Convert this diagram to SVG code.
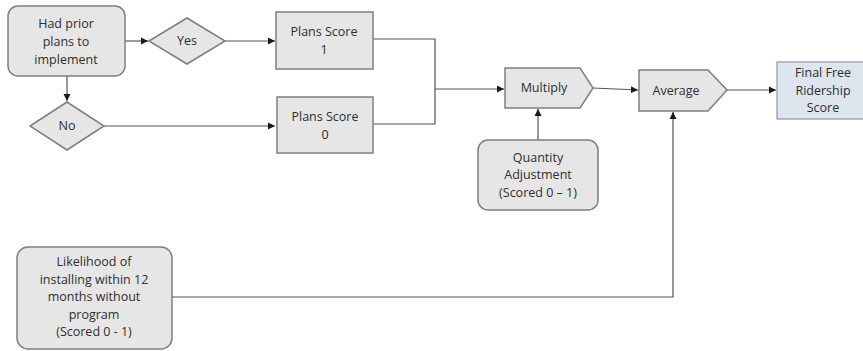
<svg xmlns="http://www.w3.org/2000/svg" width="863" height="351" viewBox="0 0 863 351">
<defs>
<marker id="ah" markerWidth="8" markerHeight="8" refX="7" refY="4" orient="auto" markerUnits="userSpaceOnUse">
<path d="M0,0.5 L7,4 L0,7.5 Z" fill="#1a1a1a"/>
</marker>
<style>
.n{fill:#e6e6e6;stroke:#7f7f7f;stroke-width:1.5}
.f{fill:#dde5ee;stroke:#8a96a4;stroke-width:1.2}
.t{font-family:"Open Sans","Liberation Sans",sans-serif;font-size:12.5px;fill:#2e2e2e;text-anchor:middle}
.c{fill:none;stroke:#555;stroke-width:1.2;marker-end:url(#ah)}
.l{fill:none;stroke:#555;stroke-width:1.2}
</style>
</defs>
<rect width="863" height="351" fill="#fff"/>
<g id="connectors">
<line class="c" x1="125" y1="41" x2="148" y2="41"/>
<line class="c" x1="225" y1="41" x2="275" y2="41"/>
<line class="c" x1="67" y1="76" x2="67" y2="101"/>
<line class="c" x1="104" y1="126" x2="275" y2="126"/>
<polyline class="l" points="373,39 435,39 435,124 373,124"/>
<line class="c" x1="435" y1="89" x2="504" y2="89"/>
<line class="c" x1="538" y1="140" x2="538" y2="109"/>
<line class="c" x1="593" y1="88" x2="638" y2="90"/>
<line class="c" x1="727" y1="90" x2="776" y2="90"/>
<polyline class="c" points="172,297 673,297 673,112"/>
</g>
<g id="had-prior">
<rect class="n" x="8" y="6" width="117" height="70" rx="10"/>
<text class="t" x="66" y="28">Had prior</text>
<text class="t" x="66" y="46">plans to</text>
<text class="t" x="66" y="64">implement</text>
</g>
<g id="yes">
<polygon class="n" points="149,41 187,18 225,41 187,64"/>
<text class="t" x="187" y="45">Yes</text>
</g>
<g id="no">
<polygon class="n" points="30,126 67,102 104,126 67,150"/>
<text class="t" x="67" y="130">No</text>
</g>
<g id="plans1">
<rect class="n" x="276" y="12" width="97" height="57"/>
<text class="t" x="324" y="36">Plans Score</text>
<text class="t" x="324" y="54">1</text>
</g>
<g id="plans0">
<rect class="n" x="277" y="97" width="96" height="56"/>
<text class="t" x="325" y="121">Plans Score</text>
<text class="t" x="325" y="139">0</text>
</g>
<g id="multiply">
<polygon class="n" points="505,68 580,68 593,88 580,108 505,108"/>
<text class="t" x="544" y="92">Multiply</text>
</g>
<g id="average">
<polygon class="n" points="639,70 708,70 727,90 708,111 639,111"/>
<text class="t" x="676" y="95">Average</text>
</g>
<g id="final">
<rect class="f" x="777" y="62" width="92" height="57"/>
<text class="t" x="823" y="77">Final Free</text>
<text class="t" x="823" y="95">Ridership</text>
<text class="t" x="823" y="112">Score</text>
</g>
<g id="quantity">
<rect class="n" x="478" y="140" width="120" height="70" rx="10"/>
<text class="t" x="538" y="162">Quantity</text>
<text class="t" x="538" y="179">Adjustment</text>
<text class="t" x="538" y="197">(Scored 0 – 1)</text>
</g>
<g id="likelihood">
<rect class="n" x="17" y="247" width="155" height="102" rx="11"/>
<text class="t" x="94" y="266">Likelihood of</text>
<text class="t" x="94" y="284">installing within 12</text>
<text class="t" x="94" y="301">months without</text>
<text class="t" x="94" y="319">program</text>
<text class="t" x="94" y="336">(Scored 0 - 1)</text>
</g>
</svg>
